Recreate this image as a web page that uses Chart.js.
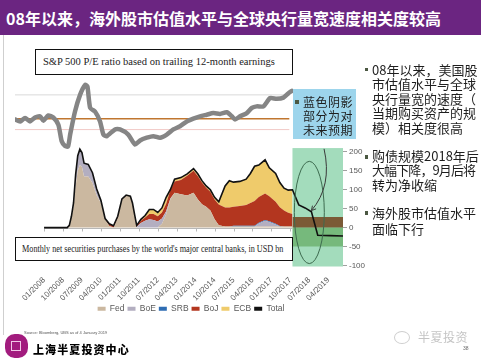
<!DOCTYPE html>
<html><head><meta charset="utf-8">
<script src="https://cdn.jsdelivr.net/npm/chart.js@4.4.1/dist/chart.umd.min.js"></script>
<style>
html,body{margin:0;padding:0;background:#fff;}
body{width:481px;height:360px;position:relative;overflow:hidden;font-family:"Noto Sans CJK SC","Noto Sans",sans-serif;}
.abs{position:absolute;white-space:nowrap;}
#title{left:0;top:0;width:481px;height:35px;background:#6b2581;}
#title span{position:absolute;left:6px;top:6px;color:#fff;font-weight:700;font-size:16px;line-height:24px;}
#leftline{left:3px;top:35px;width:1px;height:300px;background:#cfcfcf;}
.box{background:#fff;border:1.5px solid #111;box-sizing:border-box;font-family:"Liberation Serif","DejaVu Serif",serif;color:#222;}
#spbox{left:35px;top:49px;width:258px;height:26px;font-size:10.5px;line-height:23px;padding-left:7px;}
#mbox{left:15px;top:237px;width:278px;height:24px;font-size:10.5px;line-height:21px;}
#mbox span{display:inline-block;transform:scaleX(0.78);transform-origin:left center;margin-left:6px;}
#bluebox{left:293px;top:89px;width:63px;height:50px;background:#9dd5ec;}
.cn{font-size:13px;color:#1e1e1e;line-height:14.6px;}
.bx{font-size:12px;color:#1e1e1e;line-height:14.3px;letter-spacing:0.5px;}
.bul{position:absolute;width:3.5px;height:3.5px;background:#4b5842;}
</style></head>
<body>
<canvas id="c" width="481" height="360" style="position:absolute;left:0;top:0;width:481px;height:360px"></canvas>
<div id="title" class="abs"><span>08年以来，海外股市估值水平与全球央行量宽速度相关度较高</span></div>
<div id="leftline" class="abs"></div>
<div id="spbox" class="abs box">S&amp;P 500 P/E ratio based on trailing 12-month earnings</div>
<div id="mbox" class="abs box"><span>Monthly net securities purchases by the world's major central banks, in USD bn</span></div>
<div id="bluebox" class="abs"></div>
<div class="bul" style="left:295px;top:100px"></div>
<div class="abs bx" style="left:303px;top:94.5px">蓝色阴影<br>部分为对<br>未来预期</div>
<div class="bul" style="left:364.5px;top:67.5px"></div>
<div class="abs cn" style="left:372px;top:62.7px">08年以来，美国股<br>市估值水平与全球<br>央行量宽的速度（<br>当期购买资产的规<br>模）相关度很高</div>
<div class="bul" style="left:364.5px;top:155px"></div>
<div class="abs cn" style="left:372px;top:148.7px">购债规模2018年后<br><span style="letter-spacing:-0.9px">大幅下降，9月后将</span><br>转为净收缩</div>
<div class="bul" style="left:364.5px;top:211px"></div>
<div class="abs cn" style="left:372px;top:205px;line-height:15.5px">海外股市估值水平<br>面临下行</div>
<div class="abs" style="left:24px;top:330px;font-size:4px;color:#555;font-family:'Liberation Sans',sans-serif">Source: Bloomberg, UBS as of 4 January 2019</div>
<div class="abs" style="left:5px;top:334px;width:23px;height:24px;background:#a21c7e;border-radius:42%"></div>
<div class="abs" style="left:11px;top:341px;width:10px;height:10px;border:1px solid #f0c8e6;box-sizing:border-box"></div>
<div class="abs" style="left:33px;top:341px;font-size:11px;font-weight:900;letter-spacing:1.1px;color:#000;line-height:16px">上海半夏投资中心</div>
<div class="abs" style="left:394px;top:331px;width:14px;height:11px;border:1px solid #cfcfcf;border-radius:50%"></div>
<div class="abs" style="left:418px;top:329px;font-size:12px;color:#c4c4c4;letter-spacing:0.5px;line-height:16px">半夏投资</div>
<div class="abs" style="left:463px;top:345px;font-size:5px;color:#666;font-family:'Liberation Sans',sans-serif">38</div>
<script>
// ---- data ----
const months = [0,6,11,12,13,14,15,16,17,18,19,21,23,25,27,29,31,33,35,37,39,41,42,43,44,46,48,50,52,54,56,58,60,62,65,68,71,73,75,77,79,81,83,86,88,90,93,96,98,100,102,105,107,110,112,114,116,118];
const fed = [0,0,0,6,28,55,110,150,165,160,135,135,118,85,65,22,4,0,25,74,86,83,65,33,0,0,0,0,0,0,10,35,75,92,88,85,92,75,62,55,45,22,6,3,3,3,3,3,3,3,3,3,3,3,3,3,3,3];
const boe = [0,0,0,0,2,10,30,40,42,38,35,32,27,17,7,0,0,0,0,0,0,0,0,0,2,12,18,22,20,16,14,8,2,0,0,0,0,0,0,0,0,0,0,0,0,0,0,0,0,0,8,15,12,5,0,0,0,0];
const srb = [0,0,0,0,0,0,0,0,0,0,0,0,0,0,0,0,0,0,0,0,0,0,0,0,0,0,0,0,0,0,0,0,0,0,0,0,0,0,0,0,0,0,0,0,0,2,2,2,2,2,2,2,2,2,1,0,0,0];
const boj = [0,0,0,0,0,0,0,0,0,0,0,0,0,0,0,2,6,5,5,2,0,0,0,2,4,6,9,14,16,14,16,20,22,30,38,52,58,61,57,50,50,52,55,50,50,50,52,55,60,65,68,70,66,58,50,42,36,33];
const ecb = [0,0,0,0,0,0,0,0,0,0,0,0,0,0,0,0,0,0,0,0,0,0,0,0,0,4,5,12,12,10,10,17,5,6,6,5,6,6,5,5,5,6,7,56,71,65,65,68,78,92,84,89,75,75,65,59,60,64];
const totalMonths = [0,6,11,12,13,14,15,16,17,18,19,21,23,25,27,29,31,33,35,37,39,41,42,43,44,46,48,50,52,54,56,58,60,62,65,68,71,73,75,77,79,81,83,86,88,90,93,96,98,100,102,105,107,110,112,114,116,118,121,124,127,130,136,142];
const totalValues = [0,0,0,6,30,65,140,190,207,198,170,167,145,102,72,24,10,5,30,76,86,83,65,35,6,22,32,48,48,40,52,80,100,128,132,142,156,142,124,110,100,80,68,110,124,120,122,128,143,162,165,179,158,143,119,104,99,100,60,52,42,-20,-21,-22];
const fcMonths = [118,128,142];
const bojFc = [28,28,28];
const ecbFc = [42,0,0];
const fedFc = [-20,-50,-50];
const peMonths = [-13.8,-11.4,-9.0,-6.7,-4.3,-1.9,-0.3,2.0,4.4,6.8,8.4,10.0,11.4,12.4,14.7,17.1,19.5,20.6,21.9,24.2,26.6,28.2,29.8,33.7,36.1,40.0,43.2,45.6,48.8,51.9,55.1,58.3,61.4,64.6,67.8,70.9,74.1,77.3,80.4,83.6,86.8,89.2,90.7,93.1,96.3,98.7,101.0,104.2,107.4,110.5,113.7,116.1,117.7];
const peValues = [16.8,16.3,17.2,16.3,17.3,17.6,16.5,17.8,17.3,15.5,11.3,10.1,10.0,13.0,18.8,23.0,25.5,25.1,19.7,18.8,16.3,13.0,12.6,14.3,14.3,13.0,10.5,11.5,12.2,12.6,12.2,13.0,14.3,15.1,16.3,17.0,17.6,18.0,18.4,18.2,18.6,17.6,16.8,17.6,18.4,19.7,20.1,20.1,22.2,22.0,22.3,23.4,24.0];
const peMean = 17, peGridHigh = 23, peLineLow = 14.25;
const peSpan = [-13.8, 116.5];
const tickMonths = [0,9,18,27,36,45,54,63,72,81,90,99,108,117,126,135];
const tickLabels = ['01/2008','10/2008','07/2009','04/2010','01/2011','10/2011','07/2012','04/2013','01/2014','10/2014','07/2015','04/2016','01/2017','10/2017','07/2018','04/2019'];
const yTicks = [-100,-50,0,50,100,150,200];
const seriesNames = ['Fed','BoE','SRB','BoJ','ECB','Total'];
const colors = {Fed:'#cbb8a0', BoE:'#b3aec0', SRB:'#2f6db3', BoJ:'#b3361f', ECB:'#efcb6b', Total:'#111111'};
const fcColors = {BoJ:'#7b5a36', ECB:'#a2c96e', Fed:'#76b97c'};
const forecastStart = 118, forecastTop = 210;

// ---- build ----
const pts = (xs, ys) => xs.map((x, i) => ({x, y: ys[i]}));
const clear = 'rgba(0,0,0,0)';
function area(label, vals, color, fill){
  return {label, data: pts(months, vals), backgroundColor: color, borderColor: clear, borderWidth: 0,
    fill, pointRadius: 0, tension: 0, stack: 'hist', yAxisID: 'y', order: 5};
}
function fcArea(label, vals, color, fill){
  return {label, data: pts(fcMonths, vals), backgroundColor: color, borderColor: clear, borderWidth: 0,
    fill, pointRadius: 0, stepped: 'after', stack: 'fc', yAxisID: 'y', order: 4};
}
function peRef(label, v, color, w){
  return {label, data: pts(peSpan, [v, v]), borderColor: color, borderWidth: w, pointRadius: 0, fill: false, yAxisID: 'pe', order: 2};
}
const datasets = [
  area('Fed', fed, colors.Fed, 'origin'),
  area('BoE', boe, colors.BoE, '-1'),
  area('SRB', srb, colors.SRB, '-1'),
  area('BoJ', boj, colors.BoJ, '-1'),
  area('ECB', ecb, colors.ECB, '-1'),
  fcArea('BoJ forecast', bojFc, fcColors.BoJ, 'origin'),
  fcArea('ECB forecast', ecbFc, fcColors.ECB, '-1'),
  fcArea('Fed forecast', fedFc, fcColors.Fed, 'origin'),
  {label:'Total', data: pts(totalMonths, totalValues), borderColor: colors.Total, borderWidth: 1.6, pointRadius: 0, fill: false, tension: 0, stack: 'total', yAxisID: 'y', order: 1},
  peRef('grid', peGridHigh, '#d9d9d9', 1),
  peRef('low', peLineLow, '#f1c9c6', 1),
  peRef('mean', peMean, '#c0762f', 1.5),
  {label:'P/E', data: pts(peMonths, peValues), borderColor: '#858585', borderWidth: 4.5, pointRadius: 0, fill: false, tension: 0.2, borderJoinStyle: 'round', borderCapStyle: 'round', yAxisID: 'pe', order: 0}
];

const decor = {
  id: 'decor',
  beforeDatasetsDraw(chart){
    const {ctx, chartArea: a, scales: {x, y}} = chart;
    const gx = x.getPixelForValue(forecastStart), gt = y.getPixelForValue(forecastTop);
    ctx.save();
    ctx.fillStyle = '#a3dcbc';
    ctx.fillRect(gx, gt, a.right - gx, a.bottom - gt + 1);
    const y0 = Math.round(y.getPixelForValue(0)) + 0.5;
    ctx.strokeStyle = '#b8b8b8'; ctx.lineWidth = 1;
    ctx.beginPath();
    ctx.moveTo(x.getPixelForValue(0), y0); ctx.lineTo(gx, y0);
    tickMonths.forEach(m => { if (m <= forecastStart) { const px = Math.round(x.getPixelForValue(m)) + 0.5; ctx.moveTo(px, y0); ctx.lineTo(px, y0 + 3); } });
    ctx.stroke();
    ctx.restore();
  },
  afterDatasetsDraw(chart){
    const {ctx, scales: {x, y}} = chart;
    ctx.save();
    const cx = x.getPixelForValue(126), cy = y.getPixelForValue(40);
    const ry = (y.getPixelForValue(-95) - y.getPixelForValue(175)) / 2;
    ctx.strokeStyle = '#3d6b4f'; ctx.lineWidth = 1;
    ctx.beginPath(); ctx.ellipse(cx, cy, 15, ry, 0, 0, Math.PI * 2); ctx.stroke();
    const sx = x.getPixelForValue(133), sy = y.getPixelForValue(208);
    const ex = x.getPixelForValue(127), ey = y.getPixelForValue(45);
    const qx = x.getPixelForValue(137), qy = y.getPixelForValue(110);
    ctx.strokeStyle = '#3a3a3a';
    ctx.beginPath(); ctx.moveTo(sx, sy); ctx.quadraticCurveTo(qx, qy, ex, ey); ctx.stroke();
    const ang = Math.atan2(ey - qy, ex - qx);
    ctx.beginPath();
    ctx.moveTo(ex - 5 * Math.cos(ang - 0.5), ey - 5 * Math.sin(ang - 0.5));
    ctx.lineTo(ex, ey);
    ctx.lineTo(ex - 5 * Math.cos(ang + 0.5), ey - 5 * Math.sin(ang + 0.5));
    ctx.stroke();
    ctx.restore();
  }
};

new Chart(document.getElementById('c'), {
  type: 'line',
  data: {datasets},
  options: {
    responsive: false, animation: false,
    layout: {padding: {left: 15, right: 114, top: 78, bottom: 37}},
    scales: {
      x: {type: 'linear', min: -13.8, max: 142, position: 'bottom',
        grid: {display: false}, border: {display: false},
        afterBuildTicks: s => { s.ticks = tickMonths.map(v => ({value: v})); },
        afterFit: s => { s.height = 36; },
        ticks: {autoSkip: false, minRotation: 45, maxRotation: 45, padding: 2, color: '#595959',
          font: {size: 8, family: 'Liberation Sans'},
          callback: v => tickLabels[tickMonths.indexOf(v)]}},
      y: {type: 'linear', position: 'right', min: -100, max: 395, stacked: true,
        border: {display: false},
        grid: {drawOnChartArea: false, tickLength: 4, color: '#a0a0a0'},
        afterBuildTicks: s => { s.ticks = yTicks.map(v => ({value: v})); },
        afterFit: s => { s.width = 24; },
        ticks: {color: '#595959', padding: 2, font: {size: 8, family: 'Liberation Sans'}}},
      pe: {type: 'linear', display: false, min: -20, max: 27.25, stacked: false}
    },
    plugins: {
      tooltip: {enabled: false},
      legend: {position: 'bottom',
        labels: {boxWidth: 8, boxHeight: 4, padding: 3, color: '#595959',
          font: {size: 8.5, family: 'Liberation Sans'},
          generateLabels: () => seriesNames.map(n => ({text: n, fillStyle: colors[n], strokeStyle: colors[n], lineWidth: 0, hidden: false, fontColor: '#595959'}))}}
    }
  },
  plugins: [decor]
});
</script>
</body></html>
